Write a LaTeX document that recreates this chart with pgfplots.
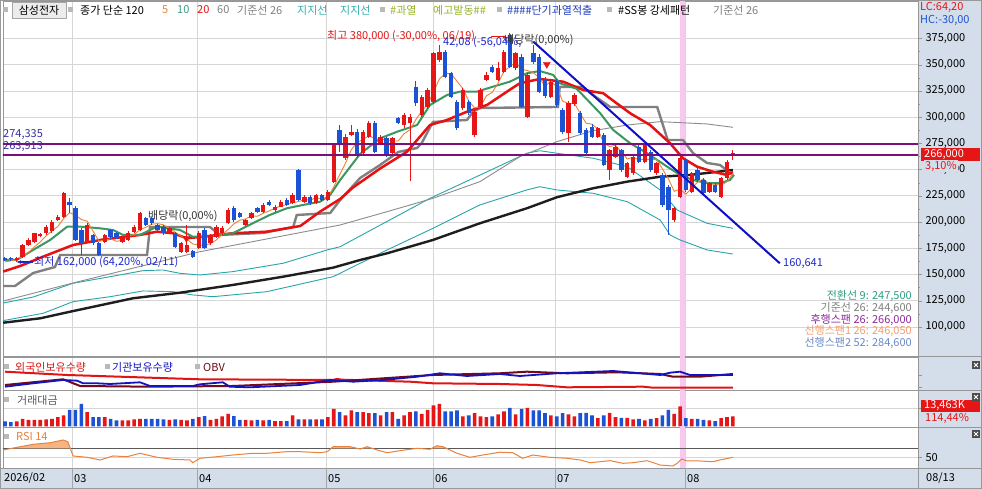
\documentclass[border=0pt]{standalone}
\usepackage{fontspec}
\setmainfont{Noto Sans CJK KR}
\usepackage{pgfplots}
\pgfplotsset{compat=1.18}
\usepackage{pgfplotstable}
\usetikzlibrary{arrows.meta}

\definecolor{cred}{RGB}{230,22,22}
\definecolor{cblue}{RGB}{28,82,212}
\definecolor{ma5}{RGB}{240,130,50}
\definecolor{ma10}{RGB}{60,150,95}
\definecolor{ma20}{RGB}{232,16,16}
\definecolor{ma60}{RGB}{140,140,140}
\definecolor{ma120}{RGB}{30,30,30}
\definecolor{kijun}{RGB}{128,128,128}
\definecolor{teal1}{RGB}{40,165,170}
\definecolor{purp}{RGB}{125,15,125}
\definecolor{tline}{RGB}{15,15,200}
\definecolor{pinkb}{RGB}{248,200,240}
\definecolor{strip}{RGB}{212,222,234}
\definecolor{gridc}{RGB}{214,214,214}
\definecolor{framec}{RGB}{150,150,150}
\definecolor{fred}{RGB}{225,20,20}
\definecolor{fblue}{RGB}{20,20,190}
\definecolor{fdred}{RGB}{115,10,25}
\definecolor{rsic}{RGB}{232,130,60}
\definecolor{rsifill}{RGB}{246,180,130}
\definecolor{hdrteal}{RGB}{50,175,175}
\definecolor{hdrgreen}{RGB}{60,155,130}
\definecolor{hdryg}{RGB}{150,180,40}
\definecolor{hdrblue}{RGB}{30,60,190}
\definecolor{annblue}{RGB}{30,40,200}
\definecolor{navy}{RGB}{50,50,160}
\definecolor{infoteal}{RGB}{46,158,128}
\definecolor{infopurp}{RGB}{139,42,155}
\definecolor{infoorange}{RGB}{240,160,112}
\definecolor{infoblue}{RGB}{106,136,200}

% i O H L C V   (up candles, prices in thousand won, V = bar height)
\pgfplotstableread{
i O H L C V
2 163.5 167 162 166 5
3 167.1 179 166 178.2 7.7
4 178 184.5 177 183 6.7
5 181.4 190 180 189.3 6.7
6 187 190 186 188.5 6.7
7 189.3 197 188 195.7 7
8 191 202 190 200.4 7.7
9 202 206.5 201 205.2 9.3
10 205.2 229 204 227.4 11
14 181.4 199 180 197.3 14.3
17 181.4 189 180 187.7 9.3
20 181.4 186 180 184.5 6
21 183 191 182 189.3 6
22 190.9 197 190 195.7 7
23 192.5 210 191 208.4 7.7
28 190.9 195.5 190 194.1 6.7
30 171.8 181 170.5 179.8 6.7
31 171.8 197 170 178.2 6
33 175 191 174 189.3 9.3
35 179.8 189 178 187.7 6.7
36 186.1 197 185 195.7 7.7
37 189.3 196 188 194 10
38 198.8 213 198 211.6 12.7
41 197.3 203 196 202 6.7
42 203.6 210 203 208.4 6
44 210 218 209 216.3 6
46 211.6 216 210 214.7 5.3
47 214.7 221 214 219.5 5.3
49 217.9 227.5 217 225.8 11
51 219.5 226 218 224.3 7
53 217.9 227 217 225.8 7
55 221.1 230.5 220 229 9.3
56 238.6 275 237 273.5 17.7
58 260.8 284 259 281.4 11
59 283 292.6 282 286.2 16
61 265.6 288 264 286.2 14.3
62 281.4 296 280 294.1 13.3
64 275.1 283 274 281.4 11
66 265.6 281.5 264 279.8 14.3
68 292.6 303.5 289.4 302.1 11
69 294 303 239 300 14.3
71 302.1 321 300 319.6 12.7
72 310 327.5 308 325.9 16.7
73 314.8 362.5 313 360.9 21
74 354.5 368.8 353 362.5 22.7
78 308.4 327.5 307 325.9 10
80 283 306.9 281.4 305.3 13.3
81 310 327.5 308 325.9 10
82 335.4 343.4 334 340.2 9.3
84 335.4 352.9 334 346.6 12
85 343.4 364 342 362.5 15
87 346.6 362.5 345 360.9 12
89 300.5 342 298.9 340.2 18.7
93 319.6 335.5 318 333.9 11
96 284.6 315 276.7 313.2 12
97 313 323 311 321 10
101 281.4 291 280 289.4 8.3
103 249.7 270 240.1 268.7 13.7
104 262.4 273.5 261 271.9 9.3
106 243.3 257.6 242 256 8.7
107 246.5 264 245 262.4 7
109 257.6 275 256 273.5 6
111 246.5 257.6 245 256 8.3
114 202 214.7 200.4 213.1 12.7
115 224.2 262.4 222.6 260.8 20
117 229 248 227.4 246.5 7.7
120 229 238.6 227.4 237 6
122 224.2 243.3 222.6 241.7 8.3
123 241.7 259.2 240.1 257.6 9.3
124 263 268.7 259.2 266 10
}\redT

% down candles
\pgfplotstableread{
i O H L C V
0 165.5 167 162.5 163.5 5
1 165.5 166.5 163 164.5 4.3
11 219.5 222.7 208.4 216.3 16.7
12 213.1 215 182 183 16.7
13 192.5 194 169 180 22.7
15 187.7 189 178 179.8 9.3
16 180 181 168 169 9.3
18 192.5 193 184 186.1 7.7
19 189.3 190.5 184 185.5 6
24 203.6 205 196 197.3 7.7
25 203.6 205 197 198.8 7.7
26 197.3 198.5 191 192.5 7.7
27 195.7 197 188 189.3 7
29 189.3 190.5 175 176.6 7
32 172 173 166 167 7.7
34 192.5 194 174 175 10.3
39 213.1 215 200 202 10.3
40 208.4 210 204 205.2 6.7
43 213.1 214.7 209 210 6.7
45 219.5 221 215 216.3 6.7
48 221.1 222.5 215 216.3 5.3
50 249.7 251 220 221.1 7
52 224.3 226 216.5 217.9 7
54 225.8 227 220 221.1 7
57 287.8 292.6 267.2 275.1 14.3
60 286.2 289 262 264 14.3
63 294.1 296 266 267.2 13.3
65 279.8 281 262 264 14.3
67 298.9 300.5 293 294.1 7.7
70 329.1 334 311 313.2 15
75 362.5 364 337 338.6 15
76 341.8 343.4 318 319.6 15
77 314.8 316 288 289.4 16
79 314.8 316 302 303.7 11
83 348.2 350 342 343.4 10
86 378.3 380 346.6 348.2 18.7
88 357.7 360 308.4 310 17.7
90 360.9 368.8 351 352.9 16
91 357.7 360 322.7 324.3 16
92 336 338 318 320 13.3
94 334 336 310 312 10
95 307 309 284 286 13.3
98 304 306 283 285 13.3
99 288 290 264 266 13.7
100 291 293 280 281.4 11
102 283 285 253 254.4 11
105 268.7 270 248 249.7 8.7
108 271.9 273.5 256 257.6 7.7
110 267.1 268.7 248 249.7 7.7
112 244.9 246.5 214 216.3 11
113 233.8 235 187.7 211.5 16.7
116 259.2 261 229 230.6 8.3
118 249.7 251.3 238.5 240.1 7.7
119 240.1 241.7 226 227.4 6.7
121 235.4 237 227.4 229 5.3
}\blueT

\tikzset{lbl/.style={inner sep=0pt, anchor=west, font=\fontsize{11}{13}\selectfont}}
\newcommand{\icon}[2]{\fill[gray!55] (#1pt,#2pt) rectangle ++(5pt,5pt);}

\pgfplotsset{
  panel/.style={scale only axis, width=915pt, xmin=-0.3407, xmax=155.537,
    anchor=south west, axis line style={framec},
    xtick={11.41,32.71,54.68,72.91,93.70,115.84}, xticklabels={},
    xtick style={draw=none}, xmajorgrids,
    grid style={gridc, line width=0.8pt},
    ytick pos=right, yticklabel pos=right, tick align=outside,
    major tick length=4pt, minor tick length=2pt, ytick style={framec},
    yticklabel style={font=\fontsize{11}{12}\selectfont, text=black}},
  band/.style={fill=pinkb, draw=none},
  candle/.style n args={2}{draw=none, mark=none, forget plot,
    error bars/.cd, y dir=plus, y explicit, error mark=none,
    error bar style={line width=#1, draw=#2, solid}}
}

\begin{document}
\begin{tikzpicture}
\useasboundingbox (0pt,0pt) rectangle (982pt,489pt);
\fill[white] (0pt,0pt) rectangle (982pt,489pt);
\fill[strip] (918pt,21pt) rectangle (982pt,489pt);
\fill[strip] (0pt,0pt) rectangle (982pt,21pt);

% ================= MAIN PRICE PANEL =================
\begin{axis}[panel, at={(3pt,133pt)}, height=355pt, ymin=72.27, ymax=410.75,
  ytick={100,125,...,375},
  yticklabels={{100,000},{125,000},{150,000},{175,000},{200,000},{225,000},{250,000},{275,000},{300,000},{325,000},{350,000},{375,000}},
  minor y tick num=1, ymajorgrids]
\addplot[band] coordinates {(114.97,0) (115.84,0) (115.84,500) (114.97,500)} -- cycle;
% support lines (teal)
\addplot[teal1, line width=0.9pt] coordinates {(-0.3,122.8)(4.8,128.5)(11.6,141.6)(17.9,147.9)(23.5,153.6)(26.9,154.3)(29.8,151.1)(33.2,149.5)(38.8,152.7)(47.4,160.7)(54.9,173.4)(57.1,176.5)(72.4,222.6)(88.9,265.6)(91.1,268.0)(94.0,265.6)(100.2,260.8)(106.0,252.8)(111.6,230.6)(114.5,211.5)(119.6,198.8)(124.0,194.0)};
\addplot[teal1, line width=0.9pt] coordinates {(-0.3,106.0)(6.5,113.0)(11.6,124.1)(17.9,128.8)(23.5,134.3)(28.6,133.6)(32.0,130.5)(35.4,128.8)(44.6,133.6)(55.9,147.9)(65.1,173.4)(72.9,194.0)(80.9,216.3)(88.9,230.6)(91.1,233.7)(94.0,230.6)(100.2,227.4)(106.0,219.4)(111.6,202.0)(113.3,187.7)(115.0,182.9)(119.6,173.4)(124.0,169.5)};
% MA60 (gray thin)
\addplot[ma60, line width=0.9pt] coordinates {(-0.3,124.7)(11.6,141.9)(33.2,171.7)(57.1,197.2)(65.1,209.9)(72.9,222.6)(80.9,238.5)(87.7,262.3)(94.0,276.6)(100.2,287.1)(106.0,292.5)(111.6,295.7)(119.6,293.5)(124.0,290.3)};
% MA120 (black)
\addplot[ma120, line width=2.4pt] coordinates {(-0.3,104.0)(6.0,108.2)(11.1,114.5)(21.8,127.3)(29.8,132.6)(38.8,140.0)(47.4,147.9)(55.9,156.5)(60.5,163.8)(65.1,170.2)(72.9,182.9)(80.9,198.8)(88.9,213.1)(94.0,223.6)(100.2,232.2)(106.0,238.5)(111.6,243.2)(116.7,244.9)(124.0,249.6)};
% Kijun 26 (gray thick)
\addplot[kijun, line width=2.4pt] coordinates {(-0.3,139.0)(1.7,139.0)(4.8,151.4)(8.5,157.1)(9.4,168.6)(24.2,168.6)(24.7,195.3)(34.9,195.3)(36.6,187.7)(44.0,189.6)(49.1,195.3)(49.7,206.7)(55.4,208.6)(57.1,221.0)(60.5,242.0)(63.9,254.4)(67.0,266.8)(70.2,270.6)(71.0,275.4)(72.9,295.4)(78.7,297.3)(79.7,304.9)(80.9,308.7)(94.2,309.7)(94.5,328.8)(98.5,328.8)(99.7,323.0)(103.1,309.7)(111.1,309.7)(112.9,278.2)(115.5,278.2)(117.2,265.8)(119.6,256.3)(121.8,254.4)(124.0,244.9)};
% MA20 (red)
\addplot[ma20, line width=2.5pt, line join=round] coordinates {(-0.3,152.8)(2.6,158.1)(6.5,167.0)(11.6,178.1)(16.2,182.9)(23.0,187.7)(25.9,190.8)(28.6,189.3)(31.0,184.5)(33.7,186.0)(38.8,189.3)(44.6,190.8)(50.3,196.2)(53.7,210.0)(57.1,222.0)(59.3,233.0)(63.9,251.0)(68.5,267.1)(72.4,292.5)(75.3,297.3)(78.7,305.2)(82.1,311.6)(85.5,324.3)(87.7,332.3)(91.1,336.4)(95.1,333.8)(98.5,325.9)(101.9,322.8)(106.5,303.7)(109.9,292.5)(113.3,275.1)(115.5,260.8)(117.9,252.8)(120.6,248.0)(123.0,244.9)(124.0,247.7)};
% MA10 (green)
\addplot[ma10, line width=2pt, line join=round] coordinates {(-0.3,163.8)(2.0,163.8)(4.8,173.4)(7.7,182.9)(10.6,195.6)(12.8,195.6)(16.2,194.0)(18.4,192.4)(20.1,187.7)(23.0,187.7)(25.9,195.6)(29.8,192.4)(32.0,186.0)(34.4,186.0)(38.8,189.3)(42.2,198.8)(45.1,206.7)(48.0,213.1)(50.8,216.3)(53.7,219.4)(55.4,225.8)(57.1,240.1)(60.5,265.0)(63.9,279.8)(66.8,286.1)(70.2,292.5)(72.4,311.6)(75.3,321.1)(77.5,324.3)(80.4,324.3)(83.1,329.0)(86.0,333.8)(88.9,341.8)(91.1,344.0)(93.4,340.2)(94.5,332.3)(97.4,327.0)(101.4,303.7)(103.6,287.8)(106.5,275.1)(109.4,265.6)(112.8,252.8)(115.0,244.9)(117.2,240.1)(119.6,237.0)(121.8,237.0)(123.5,240.1)(124.2,244.9)};
% MA5 (orange)
\addplot[ma5, line width=0.9pt] coordinates {(0,162)(1,163)(2,164)(3,167.5)(4,171.1)(5,176.3)(6,181)(7,186.9)(8,191.4)(9,195.8)(10,203.4)(11,209)(12,206.5)(13,202.4)(14,200.8)(15,191.3)(16,181.8)(17,182.8)(18,184)(19,181.6)(20,182.6)(21,186.6)(22,188.2)(23,192.7)(24,195)(25,197.9)(26,198.5)(27,197.3)(28,194.4)(29,190.3)(30,186.5)(31,183.6)(32,179.1)(33,178.2)(34,177.9)(35,179.4)(36,182.9)(37,188.3)(38,192.8)(39,198.2)(40,201.7)(41,203)(42,205.8)(43,205.5)(44,208.4)(45,210.6)(46,213.1)(47,215.4)(48,216.6)(49,218.5)(50,219.5)(51,221.4)(52,221.1)(53,223)(54,222)(55,223.6)(56,233.5)(57,244.9)(58,256)(59,269)(60,276)(61,278.6)(62,282.4)(63,279.5)(64,278.6)(65,278.6)(66,277.3)(67,277.3)(68,284.3)(69,288)(70,297.8)(71,305.8)(72,312.2)(73,323.9)(74,336.4)(75,341.5)(76,341.5)(77,334.2)(78,327.2)(79,315.4)(80,308.8)(81,310)(82,320.2)(83,323.7)(84,332.3)(85,343.7)(86,348.2)(87,352.3)(88,345.6)(89,344.4)(90,342.4)(91,337.7)(92,329.5)(93,334.3)(94,328.6)(95,315.2)(96,313)(97,313.2)(98,303.4)(99,294.2)(100,293.3)(101,288.6)(102,275.2)(103,272)(104,273.2)(105,266.8)(106,260.1)(107,261.7)(108,259.5)(109,259.8)(110,259.8)(111,259.8)(112,250.6)(113,241.4)(114,229.3)(115,231.5)(116,226.5)(117,232.5)(118,238.2)(119,241.1)(120,236.3)(121,236)(122,235)(123,238.5)(124,246.3)};
% candles: wicks then bodies
\addplot[candle={1pt}{cred}] table[x=i, y=L, y error plus expr={\thisrow{H}-\thisrow{L}}] {\redT};
\addplot[candle={1pt}{cblue}] table[x=i, y=L, y error plus expr={\thisrow{H}-\thisrow{L}}] {\blueT};
\addplot[candle={4.4pt}{cred}] table[x=i, y=O, y error plus expr={\thisrow{C}-\thisrow{O}}] {\redT};
\addplot[candle={4.4pt}{cblue}] table[x=i, y=C, y error plus expr={\thisrow{O}-\thisrow{C}}] {\blueT};
% horizontal purple levels
\addplot[purp, line width=2.5pt] coordinates {(-1,274.335)(160,274.335)};
\addplot[purp, line width=2.5pt] coordinates {(-1,263.913)(160,263.913)};
% downtrend line
\addplot[tline, line width=2pt] coordinates {(90.0,372.0)(132.0,160.641)};
% event markers
\addplot[only marks, mark=triangle*, mark size=4pt, mark options={rotate=180, fill=cred, draw=cred}] coordinates {(92.3,350.4)(30.9,184.5)};
\end{axis}

% ================= FOREIGN / INSTITUTION / OBV PANEL =================
\begin{axis}[panel, at={(3pt,99pt)}, height=33pt, ymin=0, ymax=33, ytick={3,15}, yticklabels={}]
\addplot[band] coordinates {(114.97,-5) (115.84,-5) (115.84,50) (114.97,50)} -- cycle;
\addplot[fred, line width=2pt] coordinates {(0,18.3)(10.6,15)(33.2,10.7)(55.9,10)(56.5,11)(57.5,10.3)(69,8.3)(72.9,6.7)(84.3,6)(90.6,5)(95.7,2.7)(108.7,3.3)(110.4,2.3)(124,2.3)};
\addplot[fdred, line width=2pt] coordinates {(0,5)(9.9,10.7)(12.8,4)(24.7,3.3)(38.8,4)(55.9,8.3)(72.9,15)(84.3,16.7)(88.9,18.3)(95.7,16.7)(104.3,17.7)(111.6,16)(113.8,13.3)(118.4,13.3)(124,16)};
\addplot[fblue, line width=1.8pt] coordinates {(0,3.3)(4.8,6.7)(9.9,10)(12.3,9.3)(13.3,6.7)(15.7,6.7)(17.9,6)(23.0,7.7)(24.7,4)(32.0,4)(33.2,5.7)(37.1,7.7)(38.3,3.3)(41.7,2.7)(50.3,5)(55.4,10)(59.3,8.3)(64.4,10)(70.2,13.3)(74.1,16.7)(78.7,14)(84.3,16)(87.7,14)(94.0,16.7)(103.6,19)(111.6,15)(113.3,17.3)(115.0,18.3)(116.7,15)(124,15)};
\end{axis}

% ================= VOLUME PANEL =================
\begin{axis}[panel, at={(3pt,62pt)}, height=37pt, ymin=-0.5, ymax=36.5, ytick={18.2}, yticklabels={}, ymajorgrids]
\addplot[band] coordinates {(114.97,-5) (115.84,-5) (115.84,50) (114.97,50)} -- cycle;
\addplot[ybar, bar width=3.6pt, bar shift=0pt, fill=cred, draw=none] table[x=i, y=V] {\redT};
\addplot[ybar, bar width=3.6pt, bar shift=0pt, fill=cblue, draw=none] table[x=i, y=V] {\blueT};
\end{axis}

% ================= RSI PANEL =================
\begin{axis}[panel, at={(3pt,21pt)}, height=41pt, ymin=27.2, ymax=116.2, ytick={50}, yticklabels={{50,00}}, ymajorgrids]
\addplot[band] coordinates {(114.97,0) (115.84,0) (115.84,150) (114.97,150)} -- cycle;
\addplot[gray!70!black, line width=1pt] coordinates {(-1,70)(160,70)};
\addplot[fill=rsifill, draw=none] coordinates {(1.2,70)(2.6,73.4)(4.8,78.6)(7.7,82.1)(9.9,88.0)(10.7,84.3)(11.1,70)} -- cycle;
\addplot[fill=rsifill, draw=none] coordinates {(55.6,70)(55.9,73.4)(58.8,73.4)(60.0,70)} -- cycle;
\addplot[fill=rsifill, draw=none] coordinates {(60.9,70)(61.7,73.4)(62.5,70)} -- cycle;
\addplot[fill=rsifill, draw=none] coordinates {(72.7,70)(73.6,75.6)(74.6,73.4)(75.2,70)} -- cycle;
\addplot[rsic, line width=1pt] coordinates {(-0.3,66.3)(2.6,73.4)(4.8,78.6)(7.7,82.1)(9.9,88.0)(10.7,84.3)(11.6,53.3)(14.0,50.4)(16.2,44.6)(18.4,53.3)(20.8,51.7)(23.0,59.1)(25.9,50.4)(28.6,46.1)(31.5,44.6)(32.0,38.7)(33.2,48.3)(36.1,51.7)(38.8,55.4)(42.2,59.1)(44.6,59.1)(48.0,62.6)(50.3,62.6)(53.7,60.4)(54.9,62.6)(55.9,73.4)(58.8,73.4)(60.5,68.4)(61.7,73.4)(63.4,66.3)(65.1,60.4)(67.3,64.8)(70.2,70.0)(72.4,67.8)(73.6,75.6)(74.6,73.4)(77.0,59.1)(79.2,50.4)(81.4,55.4)(84.3,61.5)(86.5,60.4)(88.2,48.3)(89.9,55.4)(92.8,50.4)(95.7,48.3)(98.0,44.6)(99.7,38.7)(101.4,40.9)(103.1,43.1)(105.3,37.4)(107.0,38.7)(109.4,43.1)(111.6,33.7)(113.8,31.6)(114.5,37.4)(115.3,46.7)(116.2,42.4)(118.4,42.4)(120.6,40.9)(121.8,44.6)(124.0,50.4)};
\end{axis}

% ================= FRAME, STRIP, DATES =================
\draw[framec] (918pt,132.5pt) -- (982pt,132.5pt);
\draw[framec] (918pt,99pt) -- (982pt,99pt);
\draw[framec] (918pt,62pt) -- (982pt,62pt);
\draw[framec] (0pt,21pt) -- (982pt,21pt);
\draw[framec] (918pt,0pt) -- (918pt,489pt);
\foreach \xx in {72,197,326,433,555,685} {\draw[gray!70] (\xx pt,0pt) -- (\xx pt,21pt);}
\node[lbl] at (4pt,10.5pt) {2026/02};
\node[lbl] at (74pt,10.5pt) {03};
\node[lbl] at (199pt,10.5pt) {04};
\node[lbl] at (328pt,10.5pt) {05};
\node[lbl] at (435pt,10.5pt) {06};
\node[lbl] at (557pt,10.5pt) {07};
\node[lbl] at (687pt,10.5pt) {08};
\node[lbl] at (926pt,10.5pt) {08/13};
\draw[gray!80] (0.5pt,0.5pt) rectangle (981.5pt,488.5pt);

% header legend
\icon{3}{476.5}
\draw[fill=gray!15, draw=gray!70] (12pt,471pt) rectangle (66pt,487pt);
\node[lbl, anchor=center] at (39pt,479pt) {삼성전자};
\icon{68}{476.5}
\node[lbl] at (80pt,479pt) {종가 단순 120};
\node[lbl, text=ma5] at (162pt,479pt) {5};
\node[lbl, text=hdrgreen] at (177pt,479pt) {10};
\node[lbl, text=ma20] at (197pt,479pt) {20};
\node[lbl, text=gray] at (217pt,479pt) {60};
\node[lbl, text=gray] at (237pt,479pt) {기준선 26};
\node[lbl, text=hdrteal] at (297pt,479pt) {지지선};
\node[lbl, text=hdrteal] at (340pt,479pt) {지지선};
\icon{380}{476.5}
\node[lbl, text=hdryg] at (390pt,479pt) {\#과열};
\node[lbl, text=hdryg] at (433pt,479pt) {예고발동\#\#};
\icon{497}{476.5}
\node[lbl, text=hdrblue] at (507pt,479pt) {\#\#\#\#단기과열적출};
\icon{607}{476.5}
\node[lbl] at (618pt,479pt) {\#SS봉 강세패턴};
\node[lbl, text=gray] at (713pt,479pt) {기준선 26};
\node[lbl, text=cred] at (920pt,482pt) {LC:64,20};
\node[lbl, text=cblue] at (920pt,469pt) {HC:-30,00};

% annotations on price panel
\node[lbl, text=cred] at (327pt,453pt) {최고 380,000 (-30,00\%, 06/19)};
\draw[cred, line width=1pt, -{Latex[length=4pt]}] (491pt,452pt) -- (507pt,452pt);
\node[lbl, text=annblue] at (443pt,447pt) {42,08 (-56,04\%,};
\node[lbl, text=black!80] at (504pt,449pt) {배당락(0,00\%)};
\node[lbl, text=black!80] at (148pt,273pt) {배당락(0,00\%)};
\draw[annblue, line width=1.2pt, -{Latex[length=5pt]}] (33pt,227pt) -- (16pt,227pt);
\node[lbl, text=annblue] at (34pt,227pt) {최저 162,000 (64,20\%, 02/11)};
\node[lbl, text=navy] at (3pt,354pt) {274,335};
\node[lbl, text=navy] at (3pt,342pt) {263,913};
\node[lbl, text=annblue] at (783pt,225pt) {160,641};
\node[lbl, anchor=east, text=infoteal] at (912pt,193pt) {전환선 9: 247,500};
\node[lbl, anchor=east, text=gray] at (912pt,181pt) {기준선 26: 244,600};
\node[lbl, anchor=east, text=infopurp] at (912pt,169.5pt) {후행스팬 26: 266,000};
\node[lbl, anchor=east, text=infoorange] at (912pt,158pt) {선행스팬1 26: 246,050};
\node[lbl, anchor=east, text=infoblue] at (912pt,146pt) {선행스팬2 52: 284,600};

% right strip value boxes
\fill[cred] (921pt,328pt) rectangle (980pt,341pt);
\node[lbl, text=white] at (924pt,334.5pt) {266,000};
\node[lbl, text=cred, fill=strip, inner sep=1pt] at (924pt,323pt) {3,10\%};
\fill[cred] (921pt,77pt) rectangle (980pt,89pt);
\node[lbl, text=white] at (924pt,83pt) {13,463K};
\node[lbl, text=cred, fill=strip, inner sep=1pt] at (924pt,70.5pt) {114,44\%};

% sub-panel legends
\icon{4}{119.5}
\node[lbl, text=fred] at (15pt,122pt) {외국인보유수량};
\icon{105}{119.5}
\node[lbl, text=fblue] at (112pt,122pt) {기관보유수량};
\icon{195}{119.5}
\node[lbl, text=fdred] at (203pt,122pt) {OBV};
\icon{4}{86.5}
\node[lbl, text=black!65] at (17pt,89pt) {거래대금};
\icon{4}{49.5}
\node[lbl, text=rsic] at (16pt,52.3pt) {RSI 14};

% close icons
\foreach \yy in {120,88,51} {
  \fill[gray!60!black] (972pt,\yy pt) rectangle ++(8pt,8pt);
  \draw[white, line width=0.8pt] (974pt,\yy pt+2pt) -- (978pt,\yy pt+6pt);
  \draw[white, line width=0.8pt] (974pt,\yy pt+6pt) -- (978pt,\yy pt+2pt);
}
\end{tikzpicture}
\end{document}
